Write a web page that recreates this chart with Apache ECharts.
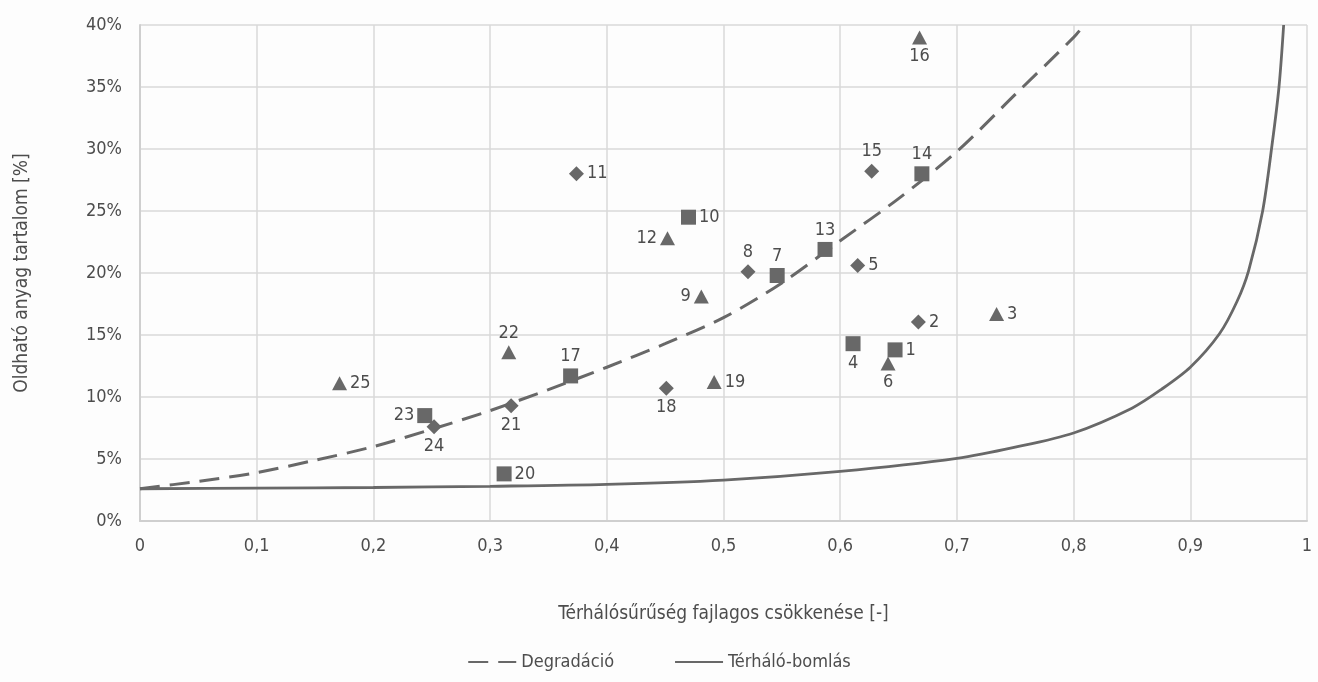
<!DOCTYPE html>
<html>
<head>
<meta charset="utf-8">
<script src="https://cdn.jsdelivr.net/npm/echarts@6/dist/echarts.min.js"></script>
<style>
html,body{margin:0;padding:0;background:#fdfdfd;}
#chart{width:1318px;height:682px;}
</style>
</head>
<body>
<div id="chart"></div>
<script>
// ---- data ----
const pointIds = [1,2,3,4,5,6,7,8,9,10,11,12,13,14,15,16,17,18,19,20,21,22,23,24,25];
const pointX = [0.647,0.667,0.734,0.611,0.615,0.641,0.546,0.521,0.481,0.470,0.374,0.452,0.587,0.670,0.627,0.668,0.369,0.451,0.492,0.312,0.318,0.316,0.244,0.252,0.171];
const pointY = [13.8,16.05,16.7,14.3,20.6,12.7,19.8,20.1,18.1,24.5,28.0,22.8,21.9,28.0,28.2,39.0,11.7,10.7,11.2,3.8,9.3,13.6,8.5,7.6,11.1];
const pointShape = ['square','diamond','triangle','square','diamond','triangle','square','diamond','triangle','square','diamond','triangle','square','square','diamond','triangle','square','diamond','triangle','square','diamond','triangle','square','diamond','triangle'];

const degradX = [0,0.05,0.1,0.15,0.2,0.25,0.3,0.35,0.4,0.45,0.5,0.55,0.6,0.65,0.7,0.75,0.8,0.809];
const degradY = [2.6,3.2,3.9,4.9,6.0,7.4,8.9,10.6,12.4,14.3,16.4,19.2,22.6,26.0,29.8,34.4,39.0,40.0];

const bomlasX = [0,0.1,0.2,0.3,0.4,0.5,0.6,0.7,0.75,0.8,0.85,0.875,0.9,0.925,0.94,0.95,0.962,0.97,0.976,0.98];
const bomlasY = [2.6,2.65,2.7,2.8,2.95,3.3,4.0,5.05,5.95,7.1,9.1,10.6,12.4,15.1,17.7,20.2,25.0,30.3,35.0,40.0];

const seriesNames = ['Degradáció','Térháló-bomlás'];
const xAxisTitle = 'Térhálósűrűség fajlagos csökkenése [-]';
const yAxisTitle = 'Oldható anyag tartalom [%]';

// ---- styles ----
const labelPos = {1:'right',2:'right',3:'right',4:'bottom',5:'right',6:'bottom',7:'top',8:'top',9:'left',10:'right',11:'right',12:'left',13:'top',14:'top',15:'top',16:'bottom',17:'top',18:'bottom',19:'right',20:'right',21:'bottom',22:'top',23:'left',24:'bottom',25:'right'};
const symbolMap = {square:'rect', diamond:'diamond', triangle:'triangle'};
const sizeMap = {square:[15,15], diamond:[15,15], triangle:[15,14]};

const FONT = "'DejaVu Sans Condensed','Liberation Sans Narrow','Roboto',sans-serif";
const TXT = '#4d4d4d';
const MARK = '#686868';

const scatterData = pointIds.map((id,i)=>({
  value:[pointX[i], pointY[i]],
  name:String(id),
  symbol:symbolMap[pointShape[i]],
  symbolSize:sizeMap[pointShape[i]],
  label:{position:labelPos[id]}
}));

const chart = echarts.init(document.getElementById('chart'), null, {renderer:'canvas'});
chart.setOption({
  backgroundColor:'#fdfdfd',
  animation:false,
  grid:{left:140, right:11, top:25, bottom:161},
  xAxis:{
    type:'value', min:0, max:1, interval:0.1,
    name:xAxisTitle, nameLocation:'middle', nameGap:84,
    nameTextStyle:{fontFamily:FONT, fontSize:19, color:TXT},
    axisLine:{show:true, lineStyle:{color:'#cfcfcf', width:2}},
    axisTick:{show:false},
    axisLabel:{fontFamily:FONT, fontSize:18, color:TXT, margin:16,
      formatter:v=>String(Math.round(v*10)/10).replace('.',',')},
    splitLine:{show:true, lineStyle:{color:'#d9d9d9', width:1.5}}
  },
  yAxis:{
    type:'value', min:0, max:40, interval:5,
    name:yAxisTitle, nameLocation:'middle', nameGap:108,
    nameTextStyle:{fontFamily:FONT, fontSize:19, color:TXT},
    axisLine:{show:true, lineStyle:{color:'#cfcfcf', width:2}},
    axisTick:{show:false},
    axisLabel:{fontFamily:FONT, fontSize:18, color:TXT, margin:18, formatter:v=>v+'%'},
    splitLine:{show:true, lineStyle:{color:'#d9d9d9', width:1.5}}
  },
  legend:{
    bottom:6, left:'center', itemGap:60, itemWidth:48, itemHeight:14,
    textStyle:{fontFamily:FONT, fontSize:18, color:TXT},
    itemStyle:{color:'transparent', borderWidth:0, opacity:0},
    data:seriesNames
  },
  series:[
    {
      name:seriesNames[0], type:'line', smooth:0.3, symbol:'none', showSymbol:false,
      data:degradX.map((x,i)=>[x,degradY[i]]),
      lineStyle:{color:MARK, width:3, type:[20,10]},
      itemStyle:{color:MARK}, z:3
    },
    {
      name:seriesNames[1], type:'line', smooth:0.3, symbol:'none', showSymbol:false,
      data:bomlasX.map((x,i)=>[x,bomlasY[i]]),
      lineStyle:{color:MARK, width:2.8},
      itemStyle:{color:MARK}, z:3
    },
    {
      name:'points', type:'scatter', data:scatterData,
      itemStyle:{color:MARK, opacity:1},
      label:{show:true, formatter:p=>p.name, fontFamily:FONT, fontSize:18, color:TXT, distance:3},
      z:4
    }
  ]
});
</script>
</body>
</html>
